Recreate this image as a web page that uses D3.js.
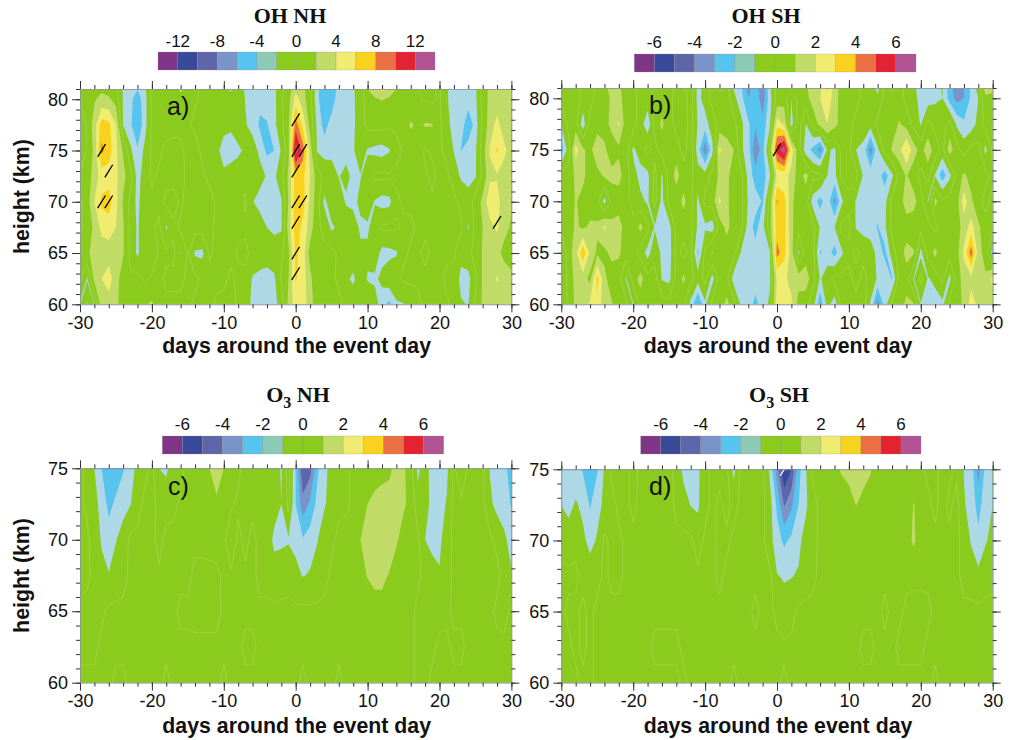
<!DOCTYPE html>
<html lang="en">
<head>
<meta charset="UTF-8">
<script src="https://d3js.org/d3.v7.min.js"></script>
<style>
    html, body { margin: 0; background: #fff; }
    svg { display: block; }
    text { font-family: "Liberation Sans", Arial, sans-serif; fill: #111; }
    .tick text { font-size: 18px; }
    .title { font-family: "Liberation Serif", "Times New Roman", serif; font-weight: bold; font-size: 22px; }
    .axis-label { font-weight: bold; font-size: 21.3px; }
    .panel-label { font-size: 25px; }
    .bar-label { font-size: 17px; }
</style>
</head>
<body>
<svg id="chart" width="1016" height="740"></svg>
<script>
// days around the event day, one column per day
const days = d3.range(-30, 31);

// rows run from the top of the panel to the bottom
const ohHeights = [81, 80, 77.5, 75, 72.5, 70, 67.5, 65, 62.5, 60];
const o3Heights = [75, 72.5, 70, 67.5, 65, 62.5, 60];

const ohNh = [
  [.5,.5,.8,1.6,1.3,.5,-2.2,-3,-3.9,-2.5, .5,.5,.5,.8,2.6,1,.4,-.4,-.5,-.4, -1.5,-2.5,-.8,-2.3,-2.8,-3,-3,-2.6,-.4,1.2, 3.5,2.5,.8,-3.5,-5.5,-5.5,-3,-2.6,-2.2,-1, 2,3,4.5,3,2,1,.5,.2,-2.3,-.2, .3,-1.8,-2.8,-2.8,-2.8,-2.4,.8,2.5,2.8,3,2.6],
  [.4,.6,1.8,2.6,2.3,1.2,-2.2,-3.4,-5.2,-2.8, .4,.3,.6,.7,.8,.6,.2,-.3,-.5,-.4, -.8,-.6,-.3,-2.1,-2.8,-3.5,-3,-2.6,-.3,1.2, 5,2.8,.8,-3.5,-5.5,-5.2,-2.8,-2.5,-2.3,-1, .8,1.8,2.1,1.8,.8,.5,.2,.3,-.2,-.4, .2,-1.8,-2.8,-2.8,-2.8,-2.4,.6,2.6,3,3,2.5],
  [-2.4,.3,3,7,6.5,4.1,-2.1,-3.6,-5.8,-2.8, .3,.5,.7,.5,.3,.2,-.3,-.5,-.6,-.7, -1.4,-1.6,-.5,-1.8,-2.8,-4.3,-4.2,-2.6,-.5,1.6, 9,5.5,1.2,-2.5,-4.8,-3,-2.6,-2.5,-2.4,-.8, .5,.8,.6,.4,.4,.8,2.3,1.5,2.2,2.1, .4,-1.5,-2.6,-2.7,-5.8,-3,.4,3,4.6,3,2.5],
  [-2.2,.4,2.5,8.5,7,4.5,1.8,-1.5,-3.7,-1.5, .3,.4,-.4,-.5,-.3,.4,.5,-.3,-.6,-1.5, -2.8,-3,-2.5,-1.5,-.9,-2.5,-4.5,-4,-1.8,1.5, 13,9,3.2,-2.2,-2.8,-2.7,-2.5,-2.6,-2.2,-.8, -2.2,-2.6,-2.8,-2.2,-.7,.3,.6,.5,-.2,.2, .3,-.5,-2.1,-4.1,-2.7,-2.3,1,4.2,6.3,4.5,3],
  [.3,.8,3,4.8,5,4.5,2.5,1,-2.8,-1, .3,-.3,-.6,-.8,-.4,.3,.5,.3,-.4,-.6, -1.6,-.9,-.6,-.4,-.6,-1.2,-2.2,-2.4,-.8,2.5, 7,6.5,4,1,-.5,-.8,-2.1,-1.5,-2.4,-2.1, -1,.5,.4,.3,.5,.6,.6,.4,.2,-.3, .3,.4,-.9,-2.3,-2.8,-2.2,.6,3.5,3.8,3,2.2],
  [-.3,1,4,6.5,7,4.5,1.8,-.6,-2.6,-.5, -.4,-.5,.5,.8,-.3,.6,.5,.8,.6,-.3, -.5,-.8,-.6,.2,-1.9,-2.8,-2.9,-2.9,-2.2,2.2, 7.5,6.8,3.5,.8,-2.5,-.5,-.3,-2.3,-2.6,-1.5, -.6,-2.2,-2.8,-2.6,-.5,.3,.4,.3,.4,.2, .3,.4,.5,-.5,-1,.8,2.5,5.5,5,2.5,2.1],
  [-.3,.7,2.5,4.5,5,4,2.2,-.4,-2.3,-.4, -.3,.4,-2.3,-.4,.3,.5,.8,.8,.5,-.3, -.5,-.4,-.4,-.3,-.5,-.8,-2,-2.6,-2.3,3, 7,5.5,3,.4,-.5,-2.4,-1.5,-.4,-.8,-2.4, -2.4,-.6,.3,.4,.3,-.3,-.4,.3,.3,.4, .4,.5,.3,.3,-2.2,.5,2,3.2,4.4,2.5,1.8],
  [.4,1.5,3,3,3,3,2.2,-.5,-2.4,-.4, -2,.3,.3,.4,-2.1,.2,-2.3,-2.5,.2,-.3, -.3,-.4,.2,.4,-.5,-1,-1,-.6,-.4,1.5, 6.5,5,1.2,.3,.4,.5,-.3,-.3,-.4,-1.5, -1.5,-.6,-2.7,-2.6,-2.2,-.4,.3,.2,-.3,.2, .4,.3,.2,-1.3,-.5,.6,2.2,3,2.5,1.5,1],
  [.4,-2.2,2.6,4,5,2.8,1,.3,.5,-.3, .3,.5,-.3,-.4,-.3,.3,.4,-.3,-.4,-.5, -.3,.3,-.3,-.4,-2.2,-2.5,-2.8,-2.4,.3,2, 6.2,5,2.5,.5,.4,.3,-.3,-1.5,-2.5,-.4, -2.2,-2.4,-1.5,-.5,-.4,.3,.3,.2,.3,.3, .4,-.3,-.6,-2.6,-2.7,-.3,2.3,3,4.2,3,2.5],
  [-2.2,.3,-2.1,3,3,2.5,1,.4,.5,1.8, 2.3,.4,.3,.4,.3,.3,-.3,-.4,-.3,.3, .4,.5,-.3,-.4,-2.8,-2.8,-2.8,-2.8,-1,2.5, 5,5,3,.6,.4,.3,.4,-.3,-.4,-.5, -.4,-1,-3,-4.6,-2.3,-2.1,-1,-.3,.3,1.6, .3,.2,-.3,-1.8,-2.1,.3,2.3,3,3,3,2.5]
];

const ohSh = [
  [.3,.4,.5,-.4,-.5,.4,.6,1.5,1.3,.3, .3,-.3,-.4,.3,.4,.5,-.3,-.4,1.1,-1.4, -.6,.3,-.3,.4,-1.1,-1.8,-3.4,-2.5,-3.8,-1.2, .4,.6,.7,.6,.8,1.5,1.7,3.2,1.5,.6, .5,.4,-.3,-.4,-1.3,.3,-.3,.5,-.4,-.8, -1.4,-1.5,-1.4,-.9,-2.5,-3.7,-3,-1.8,-.5,1.5,1.3],
  [.4,.3,.5,-.3,-.4,.3,.5,1.2,1.4,.4, .3,-.4,-.3,.3,.4,.3,-.4,-.4,.4,-1.3, -.6,.3,.4,.5,-.7,-1.6,-3,-2.2,-3.7,-1.4, .3,.6,-1,.4,.7,1.4,2,2.7,1.5,.5, .4,.3,-.3,-.4,-.8,.3,.4,.4,-.3,-.7, -1.3,-1.5,-1.2,-1,-2.4,-3.4,-3,-1.8,-1,.8,.6],
  [-1,.3,.4,-1.6,.4,.3,.6,1.3,2.1,.5, .3,-.4,-1.8,.4,1.2,.3,-.3,-.4,.3,-1.1, -1.4,-.5,.4,.5,.3,-.7,-1.8,-2.8,-2.6,-1.2, 2.6,1.8,-1.4,.4,-1,.4,1.3,2,1.4,.5, .3,-.3,-.4,-.5,.3,.6,.5,1.1,.6,-.3, -1.1,.3,-.3,-.5,.4,-1.2,-1.8,-1.5,-.7,.3,.5],
  [-2.5,-.5,2.4,1.2,.6,2.1,1.2,.4,.8,.4, -1.2,-.5,.3,-.3,.4,.3,.5,-.3,.4,-1.5, -3.8,-1.3,2.2,1.4,1,-.8,-1.5,-3.9,-2.4,.4, 5.5,6.7,2.5,.4,-1.5,-2.3,-3.5,-.8,-1.2,.3, .3,-1,-1.3,-3.6,-1.2,.4,1.1,1.6,3.1,1.5, .6,1.6,.5,-.3,1.5,.4,-.4,.3,.3,-1.3,.3],
  [.3,.4,1.2,1.3,.4,.5,1.2,1.3,1.4,.4, -.5,-1.4,-1.3,.3,-1.1,.3,1.4,.4,.3,-.6, -.5,.3,1.2,1.3,.4,.3,-1.3,-2.5,-2.6,-1.2, 2.2,2.4,1.7,.5,1.3,.3,.4,-1,-1.3,.3, .4,.3,-1.1,-1.3,-1.5,-2.5,-1.2,.3,1.1,.4, -.3,.4,-1.1,-2.6,-1.3,.3,1.2,.6,.4,.3,-.3],
  [.3,.4,1.1,.6,.4,.3,-1.4,.3,.4,.5, -.4,-.7,-1.2,.3,-1.3,.4,.3,1.3,.3,-1.2, .3,.4,2.2,1.2,.5,.3,-1.1,-1.5,-2.1,.5, 4.1,3.3,1.3,.3,.5,-1.5,-2.4,-1.3,-3.4,-1.2, -.3,-1.1,-1.4,-1.4,-1.5,-1.3,.3,.4,1.6,1.4, .4,-1.1,1.3,.3,.4,.6,2.5,1.2,.3,-.3,.3],
  [.3,.4,1.2,.8,1.2,1.2,2.2,1.3,1.5,.4, .3,1.3,.3,-1.1,-1.5,-1.4,.3,.4,.3,-1.2, -1.2,-1.5,.4,1.3,.5,.3,-1.4,-2.4,-1.3,.6, 3.5,3.4,1.2,.4,.3,.3,-1.1,-1.3,-1,.3, .3,-1.1,-1.3,-1.5,-2.1,-1.2,.3,.3,.4,.3, .3,.4,-.3,.4,.3,.5,1.5,2.4,1.2,.4,.3],
  [-1.1,.5,1.6,3.8,1.8,.8,.7,1.3,1.2,.4, .3,-.4,-1.4,-.4,-1.2,-1.5,.3,-.3,.3,-2.2, .3,1.1,.3,.4,.3,-1.1,-1.4,-1.5,-1.5,-1.1, 4.4,3.3,1.5,-1.2,.4,.3,-2.1,-1.5,-2.4,-1.2, -.3,.3,-.4,-.5,-1.3,-2.3,-.4,.4,1.4,1.1, -1.3,.4,1.3,.3,.4,.6,2.2,4.6,1.5,.5,-1.4],
  [-1.1,.4,1.3,1.5,.7,3.4,1.3,.4,.3,-1.1, .4,1.4,.3,.4,-1.1,-1.3,.3,1.2,.3,-.5, .3,-1.4,.4,.3,-1.5,-1,-1.4,-1.5,-1.6,-1.2, 2.2,2.3,1.5,1.5,1.6,.4,-1.1,-.5,.3,.4, .3,-.4,.4,-.5,-1.1,-1.1,-2.1,.3,.4,-1.1, .3,-1.1,-.7,.3,-1.3,.4,1.5,1.7,1.7,1.2,2.3],
  [-1.1,.3,1.2,1.3,2.2,2.8,1.3,1.1,.4,.3, -1.1,.3,.4,.3,.4,.3,.4,.3,-1.3,-3.2, -1.2,.3,.4,1.3,.4,-1.2,-1.5,-2.3,-1.5,-.8, 2.5,2.6,2.3,.5,.3,-.5,-2.8,-.6,-1.6,.3, .3,.4,.5,-1.1,-3.6,-1.5,.3,.4,1.3,1.1, -1.1,-1.5,-1.5,-1.3,.3,.4,1.3,2.4,1.8,1.5,1.5]
];

const o3Nh = [
  [.3,-.3,-1,-2,-2.7,-2.6,-2.1,-1.3,-.8,-.4, .3,-1,-1.2,-.4,-.3,.3,.3,.4,1,1.6, 1,.3,.2,-.3,-.3,-.4,-.4,-.5,-1.1,.5, -2,-5,-4.4,-2.2,-1.3,-.6,-.3,-.2,.2,.3, .4,.5,.6,.8,1.3,1.2,.4,-1.2,-.5,-1.5, -1.6,-1.3,.3,-1.05,.2,.3,.3,-1.05,-1.3,-1.8,-2.3],
  [.2,-.2,-.7,-1.3,-2.3,-1.8,-1.4,-1.05,-.5,.3, .3,-.3,-.4,-.3,.2,.3,.3,.4,.5,.8, .5,.2,-.2,-.3,-.3,-.4,-.4,-.6,-1,.3, -2,-3.6,-2.8,-1.7,-1.1,-.6,-.3,-.2,.2,.5, 1,1.3,1.5,1.4,1.4,1.1,.8,-.7,-.5,-1.4, -1.5,-.9,.3,.2,.3,.2,.2,-.8,-1.3,-1.5,-2.1],
  [.3,.2,-.4,-1.1,-1.5,-1.05,-.5,.2,.3,.3, .3,-.4,.3,.3,.4,.3,.3,.3,.4,.4, .3,-1.05,.3,-.3,.3,-.3,-.5,-1.2,-1.2,-1.1, -1.3,-1.9,-1.5,-1.05,-.4,-.2,.3,.4,.5,1, 1.5,1.5,1.6,1.5,1.1,.7,.3,.2,-1,-1.3, -1.25,-.4,.2,.3,.3,.3,.2,.2,-.3,-.8,-1.4],
  [.3,.2,-.3,-.7,-.95,-.5,-.3,.2,.2,.3, .3,.2,.2,.3,.2,.3,-.3,-.3,-.3,-.2, .2,.2,.3,.2,.3,-.3,-.3,-.6,-.4,-.3, -.7,-1.05,-.9,-.6,-.3,.2,.2,.3,.5,.7, 1.05,1.2,1.2,.95,.6,.4,.2,.2,-.3,-.6, -.9,-.5,.2,.3,.2,.2,.2,.2,.3,-.4,-.9],
  [-.2,-.3,-.3,-.2,.2,.2,.2,.2,.2,.2, .2,.2,.2,.2,-.2,-.2,-.3,-.3,-.3,-.3, .2,.2,.2,.2,.2,.2,.2,.2,.2,.2, .2,.2,.2,.2,.2,.2,.3,.3,.4,.5, .5,.7,.7,.4,.3,.3,.2,-.2,-.3,-.3, -.3,-.2,.2,.2,.2,.2,.2,.2,-.2,-.3,.2],
  [-.2,-.2,-.2,.2,.2,.2,.2,.2,.2,.2, .2,.2,.2,.2,.2,.2,.2,.2,.2,.2, .2,.2,.2,-.2,-.2,.2,.2,.2,.2,.2, .2,.2,.2,.2,.2,.2,.2,.2,.2,.2, .2,.2,.2,.2,.2,.2,.2,-.2,-.2,-.2, .2,.2,-.2,-.2,.2,.2,.2,.2,.2,.2,.2],
  [.2,.2,.2,.2,.2,-.2,-.2,.2,.2,.2, .2,.2,-.2,.2,.2,.2,.2,.2,.2,.2, -.2,.2,.2,.2,.2,.2,.2,.2,.2,.2, .2,-.2,.2,.2,.2,.2,-.2,.2,.2,.2, .2,.2,.2,.2,.2,.2,.2,-.2,-.2,.2, .2,.2,.2,.2,.2,.2,.2,.2,.2,.2,.2]
];

const o3Sh = [
  [-1.2,-1.4,-1.5,-2.1,-2.7,-2.1,-.9,.2,.3,.3, -.3,.2,.3,.2,.3,.3,-.3,-1.3,-1.5,-1.2, -.3,.2,.3,.2,-1.3,.2,.3,.2,.3,-1.2, -3.5,-6,-5,-2.4,-1.1,.2,.3,.4,.8,1.1, 1.3,1.5,1.4,1.1,.5,1.05,.3,.3,.2,.3, .2,-.2,-.2,.3,.2,-.2,-1.05,-1.5,-3.4,-1.7,-.9],
  [-1,-1.3,-.9,-1.2,-2.1,-1.3,-.8,-.3,.2,.2, -.2,.2,.3,.2,.2,.3,-.2,-.5,-1.05,-1.15, -.3,.2,-.2,.3,-.3,.2,.3,.2,.2,-.6, -2.2,-4.1,-3.2,-2,-1.2,-.3,.2,.3,.4,.5, .6,1.03,.7,.4,.3,.3,.2,.2,.3,1.05, .5,.2,-.2,.3,-.2,.3,-.9,-1.4,-2.4,-1.4,-1],
  [-.3,-.5,-.3,-.8,-1.3,-.9,.2,-.2,-.2,.2, .2,.2,.2,.2,.2,.2,.2,.2,.2,-.5, .2,.2,-.2,-.2,.2,.2,.2,.2,.2,-.6, -1.6,-2.2,-1.8,-1.25,-.6,-.3,.2,.2,.3,.3, .2,.2,.2,.2,.2,.2,.2,.2,.5,1.2, .4,.2,.2,.2,.2,.2,-.3,-1.1,-1.7,-1.1,-.7],
  [.2,.2,.2,-.3,-.5,-.3,.2,-.2,-.2,.2, .2,.2,.2,.2,.2,.2,.2,.2,.2,.2, .2,.2,-.2,.2,.2,.2,.2,.2,.2,.2, -.95,-1.1,-1.05,-.9,-.4,-.2,.2,.3,.2,.2, .2,.2,.2,.2,.2,.2,.2,.2,.2,.2, .2,.2,.2,.2,.2,.2,-.3,-.4,-.75,-.3,-.2],
  [.2,-.2,-.2,.2,-.2,.2,.2,.2,.2,.2, .2,.2,.2,.2,.2,.2,.2,.2,.2,.2, .2,.2,.2,.2,.2,.2,.2,-.2,.2,.2, -.2,-.6,-.3,.2,.2,.2,.2,.2,.2,.2, .2,.2,.2,.2,.2,-.2,.2,.2,-.2,-.3, -.3,-.2,.2,.2,.2,.2,.2,.2,.2,.2,.2],
  [.2,.2,-.2,.2,-.2,.2,.2,.2,.2,.2, .2,.2,.2,-.2,-.2,-.2,-.2,.2,.2,.2, .2,.2,.2,.2,.2,.2,.2,.2,.2,.2, .2,.2,.2,.2,.2,.2,.2,.2,.2,.2, .2,.2,-.2,-.2,.2,.2,.2,-.2,-.2,-.2, -.2,.2,.2,.2,.2,.2,.2,.2,.2,.2,.2],
  [.2,.2,.2,-.2,-.2,.2,.2,.2,.2,.2, .2,.2,.2,.2,.2,.2,.2,-.2,.2,.2, .2,.2,.2,.2,-.2,.2,.2,.2,.2,.2, .2,-.2,.2,.2,.2,.2,.2,.2,.2,.2, .2,.2,.2,.2,.2,.2,.2,.2,.2,.2, .2,.2,-.2,.2,.2,.2,.2,.2,.2,.2,.2]
];

// significant points as [day, height]
const ohNhMarks = [[-27,75],[-26,73],[-27,70],[-26,70],[0,78],[0,75],[1,75],[0,73],[0,70],[1,70],[0,68],[0,65],[0,63],[28,68]];
const ohShMarks = [[0,75]];
const o3ShMarks = [[1,75]];

// colour bar has a teal step where the plots use light blue
const barColors = ["#7f3588","#3a4a9b","#5f65aa","#7a93c9","#57c3ef","#8ccab5","#8acb1e","#8acb1e","#c0dc66","#f0ec70","#f8d21f","#ec7045","#e32232","#b15394"];
const plotColors = ["#7f3588","#3a4a9b","#5f65aa","#7a93c9","#57c3ef","#add8e6","#8acb1e","#8acb1e","#c0dc66","#f0ec70","#f8d21f","#ec7045","#e32232","#b15394"];
const levelsWide = [-14,-12,-10,-8,-6,-4,-2,0,2,4,6,8,10,12,14];
const levelsNarrow = [-7,-6,-5,-4,-3,-2,-1,0,1,2,3,4,5,6,7];
const barTicksWide = [-12,-8,-4,0,4,8,12];
const barTicksNarrow = [-6,-4,-2,0,2,4,6];
const xTicks = [-30,-20,-10,0,10,20,30];
const xMinor = d3.range(-30, 31, 2);

const panels = [
  { id: "a", title: ["OH NH"], label: "a)", rows: ohNh, heights: ohHeights, levels: levelsWide, barTicks: barTicksWide, marks: ohNhMarks, markColor: "#000",
    left: 80, right: 511.4, top: 89, bottom: 304.3, yMax: 81, yTicks: [60,65,70,75,80], barX: [158,435], barY: 52, barLabelY: 46.5, titleX: 290, titleY: 23, labelX: 167, labelY: 115, axisY: 353 },
  { id: "b", title: ["OH SH"], label: "b)", rows: ohSh, heights: ohHeights, levels: levelsNarrow, barTicks: barTicksNarrow, marks: ohShMarks, markColor: "#000",
    left: 561.3, right: 992.7, top: 88, bottom: 304.3, yMax: 81, yTicks: [60,65,70,75,80], barX: [634.3,916], barY: 54, barLabelY: 48, titleX: 766, titleY: 23, labelX: 649, labelY: 114, axisY: 353 },
  { id: "c", title: ["O", "3", " NH"], label: "c)", rows: o3Nh, heights: o3Heights, levels: levelsNarrow, barTicks: barTicksNarrow, marks: [], markColor: "#000",
    left: 80, right: 511.4, top: 468.3, bottom: 682.7, yMax: 75, yTicks: [60,65,70,75], barX: [162.3,443.7], barY: 436, barLabelY: 430, titleX: 298, titleY: 402, labelX: 168, labelY: 495, axisY: 733 },
  { id: "d", title: ["O", "3", " SH"], label: "d)", rows: o3Sh, heights: o3Heights, levels: levelsNarrow, barTicks: barTicksNarrow, marks: o3ShMarks, markColor: "#fff",
    left: 561.3, right: 992.7, top: 469.3, bottom: 682.7, yMax: 75, yTicks: [60,65,70,75], barX: [640.7,921], barY: 436, barLabelY: 430, titleX: 779, titleY: 402, labelX: 649, labelY: 495, axisY: 733 }
];

const svg = d3.select("#chart");

panels.forEach(p => {
  const x = d3.scaleLinear().domain([-30, 30]).range([p.left, p.right]);
  const y = d3.scaleLinear().domain([60, p.yMax]).range([p.bottom, p.top]);

  p.rows.forEach(r => { if (r.length !== days.length) throw new Error(p.id + " row length " + r.length); });

  // d3.contours puts value i at coordinate i + 0.5
  const gridX = d3.scaleLinear().domain(days.map((d, i) => i + 0.5)).range(days.map(x)).clamp(true);
  const gridY = d3.scaleLinear().domain(p.heights.map((d, i) => i + 0.5)).range(p.heights.map(y)).clamp(true);
  const path = d3.geoPath(d3.geoTransform({
    point(a, b) { this.stream.point(gridX(a), gridY(b)); }
  }));

  const contours = d3.contours()
    .size([days.length, p.heights.length])
    .smooth(true)
    .thresholds(p.levels.slice(0, -1))
    (p.rows.flat());

  svg.append("clipPath").attr("id", "clip-" + p.id)
    .append("rect")
    .attr("x", p.left).attr("y", p.top)
    .attr("width", p.right - p.left).attr("height", p.bottom - p.top);

  const plot = svg.append("g").attr("clip-path", `url(#clip-${p.id})`);

  plot.append("rect")
    .attr("x", p.left).attr("y", p.top)
    .attr("width", p.right - p.left).attr("height", p.bottom - p.top)
    .attr("fill", plotColors[0]);

  plot.selectAll("path.band")
    .data(contours)
    .enter().append("path")
    .attr("class", "band")
    .attr("d", path)
    .attr("fill", (d, i) => plotColors[i])
    .attr("stroke", d => d.value === 0 ? "#b4dc62" : "none")
    .attr("stroke-width", 0.5);

  // significance slashes
  plot.selectAll("line.mark")
    .data(p.marks)
    .enter().append("line")
    .attr("class", "mark")
    .attr("x1", d => x(d[0]) - 3.9).attr("y1", d => y(d[1]) + 6.3)
    .attr("x2", d => x(d[0]) + 3.9).attr("y2", d => y(d[1]) - 6.3)
    .attr("stroke", p.markColor)
    .attr("stroke-width", 1.3);

  // axes: minor ticks first, then labelled ones
  const yMinor = d3.range(60, p.yMax + 0.5, 1);
  const axes = [
    [d3.axisBottom(x), `translate(0,${p.bottom})`, xMinor, xTicks, true],
    [d3.axisTop(x), `translate(0,${p.top})`, xMinor, xTicks, false],
    [d3.axisLeft(y), `translate(${p.left},0)`, yMinor, p.yTicks, true],
    [d3.axisRight(y), `translate(${p.right},0)`, yMinor, p.yTicks, false]
  ];
  axes.forEach(([axis, transform, minor, major, labelled]) => {
    svg.append("g").attr("transform", transform)
      .call(axis.tickValues(minor).tickSize(4).tickSizeOuter(0).tickFormat(""))
      .call(g => g.select(".domain").attr("stroke", "#8a8f9c").attr("stroke-width", 0.8))
      .call(g => g.selectAll(".tick line").attr("stroke", "#333"));
    svg.append("g").attr("transform", transform)
      .call(axis.tickValues(major).tickSize(8).tickPadding(labelled ? 4 : 0).tickFormat(d => labelled ? String(d) : ""))
      .call(g => g.select(".domain").remove())
      .call(g => g.selectAll(".tick line").attr("stroke", "#333"))
      .call(g => g.selectAll(".tick text").attr("fill", "#111").style("font-family", "'Liberation Sans', Arial, sans-serif"));
  });

  svg.append("text").attr("class", "axis-label")
    .attr("x", (p.left + p.right) / 2 + 1).attr("y", p.axisY)
    .attr("text-anchor", "middle")
    .text("days around the event day");

  if (p.id === "a" || p.id === "c") {
    svg.append("text").attr("class", "axis-label")
      .attr("transform", `translate(29,${(p.top + p.bottom) / 2}) rotate(-90)`)
      .attr("text-anchor", "middle")
      .text("height (km)");
  }

  svg.append("text").attr("class", "panel-label")
    .attr("x", p.labelX).attr("y", p.labelY)
    .text(p.label);

  const title = svg.append("text").attr("class", "title")
    .attr("x", p.titleX).attr("y", p.titleY)
    .attr("text-anchor", "middle");
  title.append("tspan").text(p.title[0]);
  if (p.title.length > 1) {
    title.append("tspan").attr("dy", 6).style("font-size", "16px").text(p.title[1]);
    title.append("tspan").attr("dy", -6).text(p.title[2]);
  }

  // colour bar with its own scale
  const barScale = d3.scaleLinear().domain([p.levels[0], p.levels[14]]).range(p.barX);
  const bar = svg.append("g");
  bar.selectAll("rect")
    .data(barColors)
    .enter().append("rect")
    .attr("x", (d, i) => barScale(p.levels[i]))
    .attr("y", p.barY)
    .attr("width", (d, i) => barScale(p.levels[i + 1]) - barScale(p.levels[i]))
    .attr("height", 18)
    .attr("fill", d => d)
    .attr("stroke", "#8a8f7c")
    .attr("stroke-opacity", 0.5)
    .attr("stroke-width", 0.5);
  bar.selectAll("text")
    .data(p.barTicks)
    .enter().append("text")
    .attr("class", "bar-label")
    .attr("x", d => barScale(d))
    .attr("y", p.barLabelY)
    .attr("text-anchor", "middle")
    .text(d => d);
});
</script>
</body>
</html>
